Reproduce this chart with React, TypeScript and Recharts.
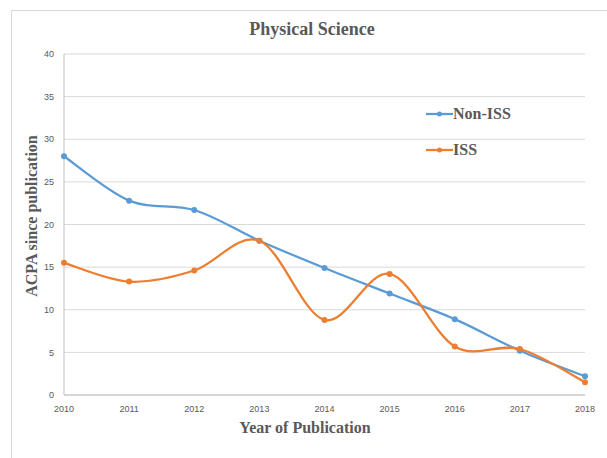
import { LineChart, Line, XAxis, YAxis, CartesianGrid } from 'recharts';

const years = ['2010', '2011', '2012', '2013', '2014', '2015', '2016', '2017', '2018'];
const nonIss = [28, 22.8, 21.7, 18.1, 14.9, 11.9, 8.9, 5.2, 2.2];
const iss = [15.5, 13.3, 14.6, 18.1, 8.8, 14.2, 5.7, 5.4, 1.5];
const yTicks = [0, 5, 10, 15, 20, 25, 30, 35, 40];

const BLUE = '#5B9BD5';
const ORANGE = '#ED7D31';
const TEXT = '#595959';
const SERIF = '"Liberation Serif", "Times New Roman", serif';

const data = years.map((year, i) => ({ year, nonIss: nonIss[i], iss: iss[i] }));

// Excel-style smoothed line (catmull-rom through every point)
const excelSmooth = (context: any) => {
  let pts: number[][] = [];
  return {
    areaStart() {},
    areaEnd() {},
    lineStart() {
      pts = [];
    },
    point(x: number, y: number) {
      pts.push([+x, +y]);
    },
    lineEnd() {
      const n = pts.length;
      if (!n) return;
      context.moveTo(pts[0][0], pts[0][1]);
      for (let i = 0; i < n - 1; i++) {
        const p0 = pts[Math.max(i - 1, 0)];
        const p1 = pts[i];
        const p2 = pts[i + 1];
        const p3 = pts[Math.min(i + 2, n - 1)];
        context.bezierCurveTo(
          p1[0] + (p2[0] - p0[0]) / 6,
          p1[1] + (p2[1] - p0[1]) / 6,
          p2[0] - (p3[0] - p1[0]) / 6,
          p2[1] - (p3[1] - p1[1]) / 6,
          p2[0],
          p2[1]
        );
      }
    },
  };
};

const LegendItem = ({ color, label, top }: { color: string; label: string; top: number }) => (
  <div style={{ position: 'absolute', left: 426, top, display: 'flex', alignItems: 'center' }}>
    <svg width={27} height={8}>
      <line x1={0} y1={4} x2={27} y2={4} stroke={color} strokeWidth={2.25} />
      <circle cx={13.5} cy={4} r={2.5} fill={color} />
    </svg>
    <span style={{ fontFamily: SERIF, fontWeight: 'bold', fontSize: 16, color: TEXT, lineHeight: '16px' }}>
      {label}
    </span>
  </div>
);

export default function App() {
  return (
    <div style={{ position: 'absolute', left: 0, top: 0, width: 607, height: 458, background: '#fff', overflow: 'hidden' }}>
      <div
        style={{
          position: 'absolute',
          left: 11,
          top: 10,
          width: 620,
          height: 470,
          border: '1px solid #D9D9D9',
        }}
      />
      <LineChart
        width={607}
        height={458}
        data={data}
        margin={{ top: 54, right: 22, left: 24, bottom: 0 }}
        style={{ position: 'absolute', left: 0, top: 0 }}
      >
        <CartesianGrid vertical={false} stroke="#D9D9D9" />
        <XAxis
          dataKey="year"
          height={63}
          tickLine={false}
          axisLine={{ stroke: '#BFBFBF' }}
          tickSize={0}
          tickMargin={11}
          interval={0}
          tick={{ fontSize: 9, fill: TEXT, fontFamily: '"Liberation Sans", Arial, sans-serif' }}
        />
        <YAxis
          width={40}
          domain={[0, 40]}
          ticks={yTicks}
          tickLine={false}
          axisLine={{ stroke: '#BFBFBF' }}
          tickSize={0}
          tickMargin={10}
          tick={{ fontSize: 9, fill: TEXT, fontFamily: '"Liberation Sans", Arial, sans-serif' }}
        />
        <Line
          dataKey="nonIss"
          name="Non-ISS"
          type={excelSmooth as any}
          stroke={BLUE}
          strokeWidth={2.25}
          dot={{ r: 3, fill: BLUE, stroke: BLUE, strokeWidth: 0 }}
          activeDot={false}
          isAnimationActive={false}
        />
        <Line
          dataKey="iss"
          name="ISS"
          type={excelSmooth as any}
          stroke={ORANGE}
          strokeWidth={2.25}
          dot={{ r: 3, fill: ORANGE, stroke: ORANGE, strokeWidth: 0 }}
          activeDot={false}
          isAnimationActive={false}
        />
      </LineChart>
      <div
        style={{
          position: 'absolute',
          left: 0,
          width: 624,
          top: 19,
          textAlign: 'center',
          fontFamily: SERIF,
          fontWeight: 'bold',
          fontSize: 18,
          color: TEXT,
        }}
      >
        Physical Science
      </div>
      <div
        style={{
          position: 'absolute',
          left: 0,
          width: 610,
          top: 419,
          textAlign: 'center',
          fontFamily: SERIF,
          fontWeight: 'bold',
          fontSize: 16,
          color: TEXT,
        }}
      >
        Year of Publication
      </div>
      <div
        style={{
          position: 'absolute',
          left: 32,
          top: 216,
          transform: 'translate(-50%, -50%) rotate(-90deg)',
          whiteSpace: 'nowrap',
          fontFamily: SERIF,
          fontWeight: 'bold',
          fontSize: 16,
          color: TEXT,
        }}
      >
        ACPA since publication
      </div>
      <LegendItem color={BLUE} label="Non-ISS" top={106} />
      <LegendItem color={ORANGE} label="ISS" top={142} />
    </div>
  );
}
